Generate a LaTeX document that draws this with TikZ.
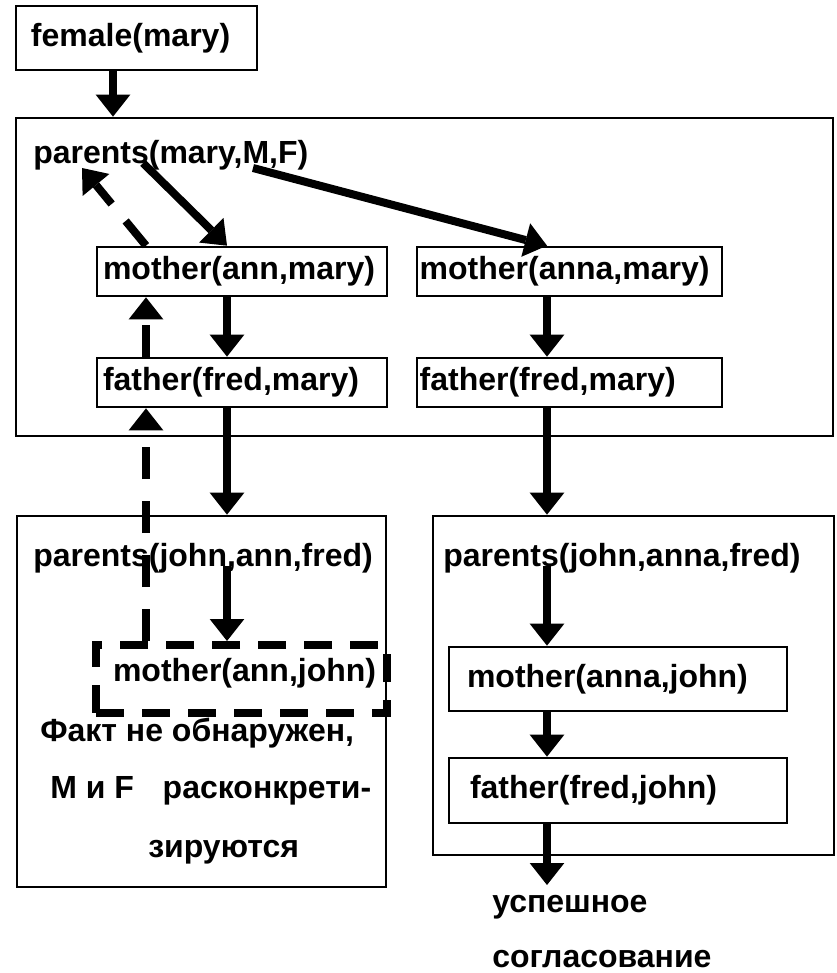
\documentclass[tikz,border=0pt]{standalone}
\usepackage{fontspec}
\setmainfont{Liberation Sans}
\usetikzlibrary{arrows.meta,fit}

\begin{document}
\begin{tikzpicture}[x=0.75pt, y=-0.75pt,
  font=\bfseries\fontsize{24pt}{28pt}\selectfont,
  goal/.style={draw, line width=2pt, align=left, inner ysep=0pt, text height=17.5pt, text depth=5pt},
  frame/.style={draw, line width=2pt, inner sep=0pt},
  txt/.style={anchor=base west, inner sep=0pt},
  flow/.style={line width=6pt, -{Triangle[width=26pt, length=16.5pt, line width=0pt]}},
  back/.style={flow, dash pattern=on 24pt off 16.5pt},
  failgoal/.style={goal, line width=6pt, dash pattern=on 21pt off 13.5pt, text depth=14pt}]
  \useasboundingbox (0,0) rectangle (836,973);

  % Rahmen
  \node[frame, fit={(16,118) (833,436)}] (upper) {};
  \node[frame, fit={(17,516) (386,887)}] (branchA) {};
  \node[frame, fit={(433,516) (834,855)}] (branchB) {};

  % Ziele
  \node[goal, text width=158.25pt, inner xsep=11.25pt, minimum height=48pt] (female) at (136.5,38) {female(mary)};
  \node[goal, text width=208.5pt, inner xsep=4.5pt, minimum height=36.75pt] (motherA) at (242,271.5) {mother(ann,mary)};
  \node[goal, text width=208.5pt, inner xsep=4.5pt, minimum height=36.75pt] (fatherA) at (242,382.5) {father(fred,mary)};
  \node[goal, text width=224.75pt, inner xsep=2pt, minimum height=36.75pt] (motherB) at (569.5,271.5) {mother(anna,mary)};
  \node[goal, text width=224.75pt, inner xsep=2pt, minimum height=36.75pt] (fatherB) at (569.5,382.5) {father(fred,mary)};
  \node[failgoal, text width=192.75pt, inner xsep=12.75pt, minimum height=51pt] (motherAJ) at (241.5,679) {mother(ann,john)};
  \node[goal, text width=226.5pt, inner xsep=13.5pt, minimum height=48pt] (motherBJ) at (618,679) {mother(anna,john)};
  \node[goal, text width=222pt, inner xsep=15.75pt, minimum height=48.75pt] (fatherBJ) at (618,790.5) {father(fred,john)};

  % Texte
  \node[txt] (pMary) at (33,164) {parents(mary,M,F)};
  \node[txt] (pJohnA) at (33,566) {parents(john,ann,fred)};
  \node[txt] (pJohnB) at (443,566) {parents(john,anna,fred)};
  \node[txt] (fail1) at (40,741) {Факт не обнаружен,};
  \node[txt] (fail2) at (50,798) {M и F\hspace{0.9em}расконкрети-};
  \node[txt] (fail3) at (148,857) {зируются};
  \node[txt] (ok1) at (492,912) {успешное};
  \node[txt] (ok2) at (492,967) {согласование};

  % Spalten
  \coordinate (cA) at (113,0);
  \coordinate (cB) at (227,0);
  \coordinate (cC) at (146,0);
  \coordinate (cD) at (547,0);
  \coordinate (sA) at (143,163);
  \coordinate (sB) at (253,168);
  \coordinate (rA) at (82,168);
  \coordinate (okEnd) at (547,885);

  % Pfeile
  \draw[flow] (female.south -| cA) -- (upper.north -| cA);
  \draw[flow] (sA) -- (motherA.north -| cB);
  \draw[flow] (sB) -- (motherB.north -| cD);
  \draw[flow] (motherA.south -| cB) -- (fatherA.north -| cB);
  \draw[flow] (fatherA.south -| cB) -- (branchA.north -| cB);
  \draw[flow] (pJohnA.base -| cB) -- (motherAJ.north -| cB);
  \draw[flow] (motherB.south -| cD) -- (fatherB.north -| cD);
  \draw[flow] (fatherB.south -| cD) -- (branchB.north -| cD);
  \draw[flow] (pJohnB.base -| cD) -- (motherBJ.north -| cD);
  \draw[flow] (motherBJ.south -| cD) -- (fatherBJ.north -| cD);
  \draw[flow] (fatherBJ.south -| cD) -- (okEnd);

  % Ruecksetzen
  \draw[back] (motherA.north -| cC) -- (rA);
  \draw[back] (fatherA.north -| cC) -- (motherA.south -| cC);
  \draw[back] (motherAJ.north -| cC) -- (fatherA.south -| cC);
\end{tikzpicture}
\end{document}
